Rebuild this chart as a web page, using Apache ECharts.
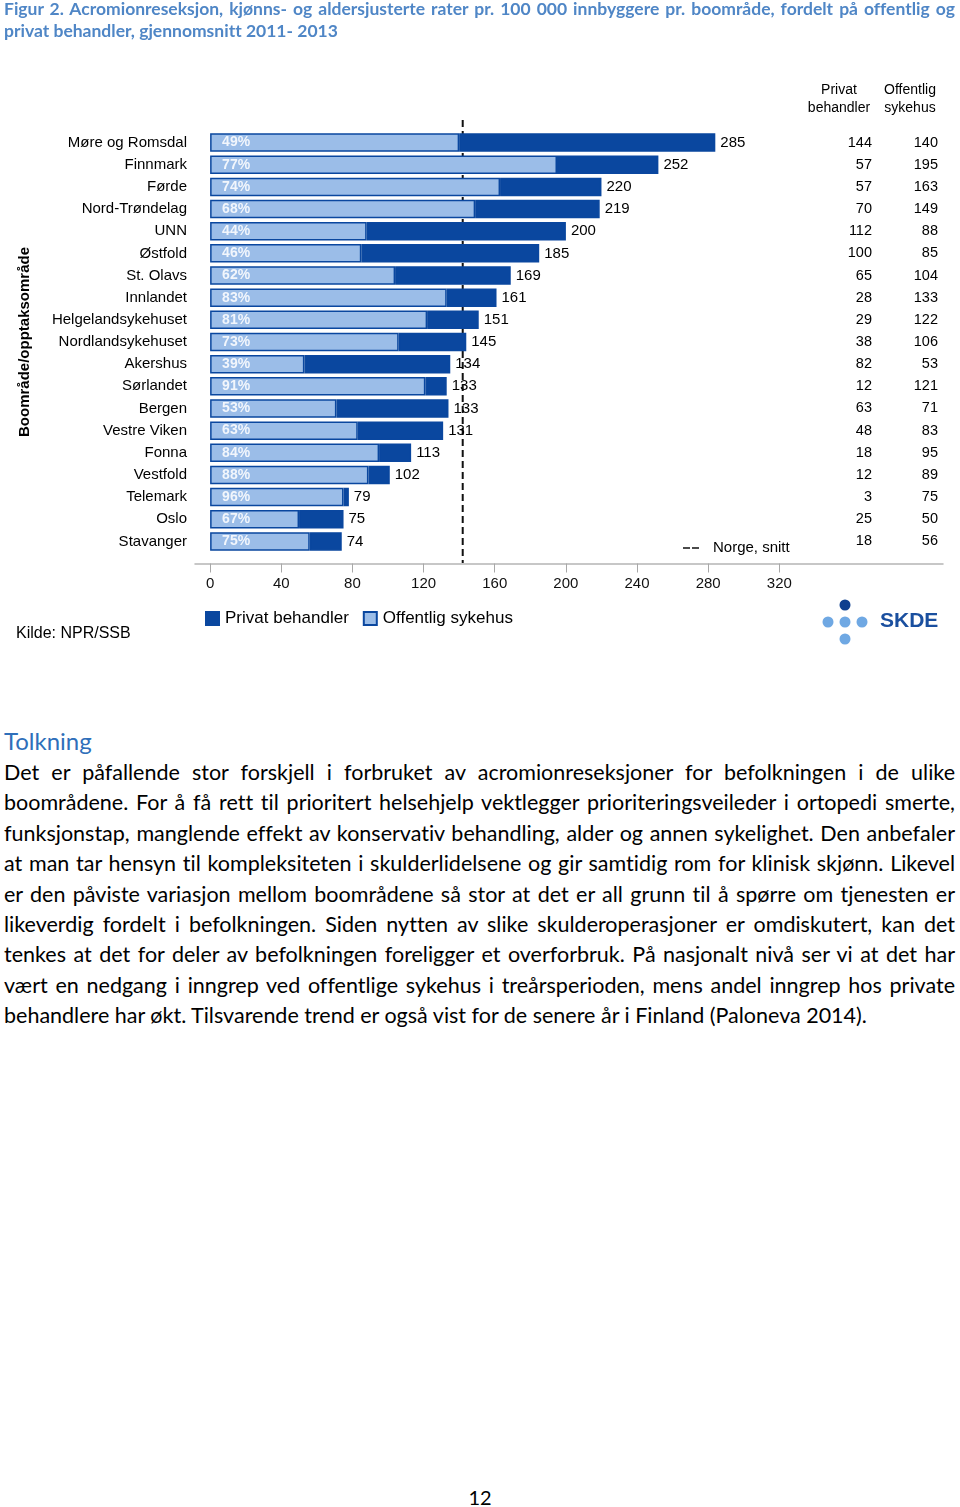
<!DOCTYPE html>
<html><head><meta charset="utf-8">
<script src="https://cdn.jsdelivr.net/npm/echarts@6/dist/echarts.min.js"></script>
<style>
html,body{margin:0;padding:0;background:#fff;}
#page{position:relative;width:960px;height:1507px;overflow:hidden;font-variant-ligatures:none;}
#chart{position:absolute;left:0;top:0;width:960px;height:680px;}
.title{position:absolute;left:4px;top:-2px;font-family:Lato,sans-serif;font-weight:bold;font-size:17.5px;line-height:22px;color:#4f86c6;}
.ln{white-space:nowrap;}
.ln span{display:inline-block;transform-origin:0 50%;}
#tolk{position:absolute;left:4px;top:726px;font-family:Lato,sans-serif;font-size:24px;line-height:30px;color:#2f6fba;}
#para{position:absolute;left:4px;top:757px;width:951px;font-family:Lato,sans-serif;font-size:21.5px;line-height:30.4px;color:#000;}
#pnum{position:absolute;left:0;width:960px;top:1485px;text-align:center;font-family:Lato,sans-serif;font-size:20px;line-height:24px;}
</style></head>
<body><div id="page">
<div id="chart"></div>
<div class="title">
<div class="ln" data-w="951"><span>Figur 2. Acromionreseksjon, kjønns- og aldersjusterte rater pr. 100 000 innbyggere pr. boområde, fordelt på offentlig og</span></div>
<div class="ln"><span>privat behandler, gjennomsnitt 2011- 2013</span></div>
</div>
<div id="tolk">Tolkning</div>
<div id="para">
<div class="ln" data-w="951"><span>Det er påfallende stor forskjell i forbruket av acromionreseksjoner for befolkningen i de ulike</span></div>
<div class="ln" data-w="951"><span>boområdene. For å få rett til prioritert helsehjelp vektlegger prioriteringsveileder i ortopedi smerte,</span></div>
<div class="ln" data-w="951"><span>funksjonstap, manglende effekt av konservativ behandling, alder og annen sykelighet. Den anbefaler</span></div>
<div class="ln" data-w="951"><span>at man tar hensyn til kompleksiteten i skulderlidelsene og gir samtidig rom for klinisk skjønn. Likevel</span></div>
<div class="ln" data-w="951"><span>er den påviste variasjon mellom boområdene så stor at det er all grunn til å spørre om tjenesten er</span></div>
<div class="ln" data-w="951"><span>likeverdig fordelt i befolkningen. Siden nytten av slike skulderoperasjoner er omdiskutert, kan det</span></div>
<div class="ln" data-w="951"><span>tenkes at det for deler av befolkningen foreligger et overforbruk. På nasjonalt nivå ser vi at det har</span></div>
<div class="ln" data-w="951"><span>vært en nedgang i inngrep ved offentlige sykehus i treårsperioden, mens andel inngrep hos private</span></div>
<div class="ln" data-max="866"><span>behandlere har økt. Tilsvarende trend er også vist for de senere år i Finland (Paloneva 2014).</span></div>
</div>
<div id="pnum">12</div>
</div>
<script>
const categories = ['Møre og Romsdal','Finnmark','Førde','Nord-Trøndelag','UNN','Østfold','St. Olavs','Innlandet','Helgelandsykehuset','Nordlandsykehuset','Akershus','Sørlandet','Bergen','Vestre Viken','Fonna','Vestfold','Telemark','Oslo','Stavanger'];
const privat = [144,57,57,70,112,100,65,28,29,38,82,12,63,48,18,12,3,25,18];
const offentlig = [140,195,163,149,88,85,104,133,122,106,53,121,71,83,95,89,75,50,56];
const totals = [285,252,220,219,200,185,169,161,151,145,134,133,133,131,113,102,79,75,74];
const andelOffentlig = [49,77,74,68,44,46,62,83,81,73,39,91,53,63,84,88,96,67,75];
const norgeSnitt = 142;
const xTicks = [0,40,80,120,160,200,240,280,320];

const DARK = '#0a479f', LIGHT = '#9bbde8';
const FONT = 'Arial, "Liberation Sans", sans-serif';

const chart = echarts.init(document.getElementById('chart'), null, {renderer:'canvas'});
chart.setOption({
  animation:false,
  grid:{left:195, right:17, top:131.5, bottom:127.5, containLabel:false},
  legend:{
    data:['Privat behandler','Offentlig sykehus'],
    left:200, top:605, itemWidth:13, itemHeight:13, itemGap:14, icon:'rect',
    textStyle:{fontFamily:FONT, fontSize:17, color:'#000', padding:[0,0,0,1]}
  },
  xAxis:{
    type:'value', min:-8.5, max:412, offset:11,
    splitLine:{show:false},
    axisLine:{show:true, lineStyle:{color:'#b5b5b5', width:1.5}},
    axisTick:{show:true, customValues:xTicks, length:9, inside:false, lineStyle:{color:'#a8a8a8'}},
    axisLabel:{customValues:xTicks, margin:13, fontFamily:FONT, fontSize:15, color:'#111'}
  },
  yAxis:[
    {type:'category', data:categories, inverse:true,
     name:'Boområde/opptaksområde', nameLocation:'middle', nameGap:163, nameRotate:90,
     nameTextStyle:{fontFamily:FONT, fontSize:15, fontWeight:'bold', color:'#000'},
     axisLine:{show:false}, axisTick:{show:false},
     axisLabel:{margin:8, fontFamily:FONT, fontSize:15, color:'#000'}},
    {type:'category', data:categories, inverse:true, position:'right',
     axisLine:{show:false}, axisTick:{show:false},
     axisLabel:{margin:-71, align:'right', fontFamily:FONT, fontSize:14.5, color:'#000',
       formatter:(v,i)=>String(privat[i])}},
    {type:'category', data:categories, inverse:true, position:'right',
     axisLine:{show:false}, axisTick:{show:false},
     axisLabel:{margin:-5, align:'right', fontFamily:FONT, fontSize:14.5, color:'#000',
       formatter:(v,i)=>String(offentlig[i])}}
  ],
  series:[
    {name:'Offentlig sykehus', type:'bar', stack:'t', yAxisIndex:0, data:offentlig, barWidth:18.5,
     itemStyle:{color:LIGHT, borderColor:DARK, borderWidth:1.5},
     label:{show:true, position:'insideLeft', distance:12, fontFamily:FONT, fontSize:14, fontWeight:'bold', color:'#f2f6fc',
       formatter:p=>andelOffentlig[p.dataIndex]+'%'}},
    {name:'Privat behandler', type:'bar', stack:'t', yAxisIndex:0, data:privat, barWidth:18.5,
     itemStyle:{color:DARK, borderColor:DARK, borderWidth:1.5},
     label:{show:true, position:'right', distance:5, fontFamily:FONT, fontSize:15, color:'#000',
       formatter:p=>String(totals[p.dataIndex])}}
  ]
});

const nx = chart.convertToPixel({xAxisIndex:0}, norgeSnitt);
const txt = (t,x,y,opt={}) => ({type:'text', silent:true, style:Object.assign({text:t, x:x, y:y, fill:'#000', font:'15px '+FONT, align:'left', verticalAlign:'middle', textAlign:'left', textVerticalAlign:'middle'}, opt)});
chart.setOption({graphic:[
  {type:'line', silent:true, shape:{x1:nx, y1:120, x2:nx, y2:563}, style:{stroke:'#111', lineWidth:2, lineDash:[7,4]}},
  {type:'line', silent:true, shape:{x1:683, y1:548, x2:699, y2:548}, style:{stroke:'#111', lineWidth:1.5, lineDash:[7,2]}},
  txt('Norge, snitt', 713, 548),
  txt('Privat', 839, 90, {align:'center', textAlign:'center', font:'14px '+FONT}),
  txt('behandler', 839, 108, {align:'center', textAlign:'center', font:'14px '+FONT}),
  txt('Offentlig', 910, 90, {align:'center', textAlign:'center', font:'14px '+FONT}),
  txt('sykehus', 910, 108, {align:'center', textAlign:'center', font:'14px '+FONT}),
  txt('Kilde: NPR/SSB', 16, 634, {font:'16px '+FONT}),
  {type:'circle', silent:true, shape:{cx:845, cy:605, r:5.5}, style:{fill:'#0d3f8f'}},
  {type:'circle', silent:true, shape:{cx:828, cy:622, r:5.5}, style:{fill:'#6fa8e3'}},
  {type:'circle', silent:true, shape:{cx:845, cy:622, r:5.5}, style:{fill:'#6fa8e3'}},
  {type:'circle', silent:true, shape:{cx:862, cy:622, r:5.5}, style:{fill:'#6fa8e3'}},
  {type:'circle', silent:true, shape:{cx:845, cy:639, r:5.5}, style:{fill:'#6fa8e3'}},
  txt('SKDE', 880, 621, {font:'bold 21px '+FONT, fill:'#1a4f9f'})
]});

// fit text lines
document.querySelectorAll('.ln').forEach(el=>{
  const sp = el.querySelector('span');
  const w = sp.getBoundingClientRect().width;
  const target = el.dataset.w ? +el.dataset.w : (el.dataset.max ? +el.dataset.max : null);
  if(!target) return;
  if(el.dataset.max){ if(w>target) sp.style.transform='scaleX('+(target/w)+')'; return; }
  if(w>target){ sp.style.transform='scaleX('+(target/w)+')'; }
  else {
    const n = (sp.textContent.match(/ /g)||[]).length;
    if(n) sp.style.wordSpacing = ((target-w)/n)+'px';
  }
});
</script>
</body></html>
